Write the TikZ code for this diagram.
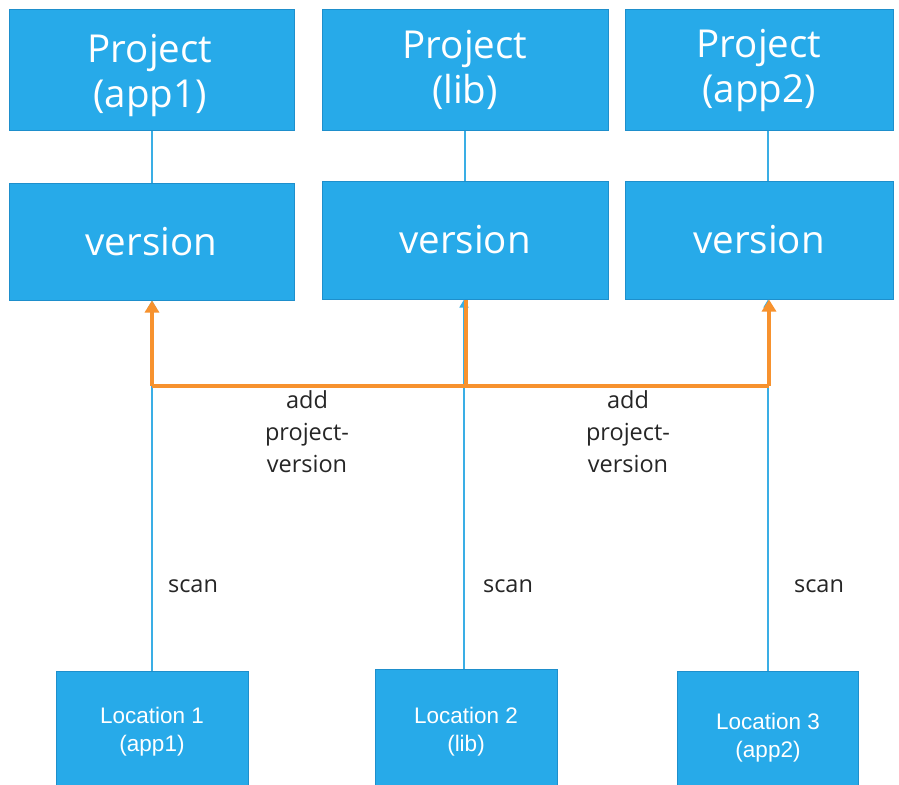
\documentclass[tikz,border=0pt]{standalone}
\usepackage{fontspec}
\setmainfont{Open Sans}
\newfontfamily\locfont{Liberation Sans}
\usetikzlibrary{arrows.meta}
\definecolor{boxfill}{HTML}{27AAE9}
\definecolor{boxdraw}{HTML}{1E8FCC}
\definecolor{oline}{HTML}{F7922E}
\definecolor{bline}{HTML}{3AAEE5}
\tikzset{
  box/.style={draw=boxdraw, fill=boxfill, line width=1pt, text=white, align=center, inner sep=0pt},
  bigfont/.style={font=\fontsize{38.5}{45}\selectfont},
  bigbox/.style={box, bigfont},
  boxtext/.style={text=white, align=center, inner sep=0pt, bigfont},
  locbox/.style={box, font=\locfont\fontsize{22.5}{28}\selectfont},
  bconn/.style={draw=bline, line width=1.5pt},
  oconn/.style={draw=oline, line width=3.2pt},
  lbl/.style={align=center, text=black!85, font=\fontsize{23.5}{32}\selectfont, inner sep=0pt}
}
\begin{document}
\begin{tikzpicture}[x=1pt,y=-1pt]
\clip (0,0) rectangle (899,784);
\fill[white] (0,0) rectangle (899,784);
% project boxes
\node[bigbox, minimum width=285pt, minimum height=120pt] (p1) at (151.5,70) {};
\node[boxtext] (p1t) at (150,75) {Project\\(app1)};
\node[bigbox, minimum width=286pt, minimum height=120pt] (p2) at (465,70) {Project\\(lib)};
\node[bigbox, minimum width=268pt, minimum height=120pt] (p3) at (759,70) {Project\\(app2)};
% version boxes
\node[bigbox, minimum width=285pt, minimum height=117pt] (v1) at (151.5,241.5) {version};
\node[bigbox, minimum width=286pt, minimum height=118pt] (v2) at (465,240) {version};
\node[bigbox, minimum width=268pt, minimum height=118pt] (v3) at (759,240) {version};
% location boxes
\node[locbox, minimum width=192pt, minimum height=122pt] (l1) at (152,732) {Location 1\\(app1)};
\node[locbox, minimum width=182pt, minimum height=126pt] (l2) at (466,732) {Location 2\\(lib)};
\node[locbox, minimum width=181pt, minimum height=134pt] (l3) at (768,738) {Location 3\\(app2)};
% project - version links
\draw[bconn] (p1.south -| 152,0) -- (v1.north -| 152,0);
\draw[bconn] (p2.south -| 465,0) -- (v2.north -| 465,0);
\draw[bconn] (p3.south -| 768,0) -- (v3.north -| 768,0);
% scan links
\draw[bconn, -{Triangle[length=8pt,width=9pt]}] (l1.north) -- (l1.north |- v1.south);
\draw[bconn, -{Triangle[length=8pt,width=9pt]}] (l2.north -| 464,0) -- (v2.south -| 464,0);
\draw[bconn, -{Triangle[length=8pt,width=9pt]}] (l3.north) -- (l3.north |- v3.south);
% orange add project-version
\coordinate (o1) at (152,386);
\coordinate (o2) at (466,386);
\coordinate (o3) at (769,386);
\draw[oconn] (o1) -- (o3);
\draw[oconn, -{Triangle[length=12pt,width=14pt]}] (o1) -- (o1 |- v1.south);
\draw[oconn] (o2) -- (o2 |- v2.south);
\draw[oconn, -{Triangle[length=12pt,width=14pt]}] (o3) -- (o3 |- v3.south);
% labels
\node[lbl] (a1) at (307,432) {add\\project-\\version};
\node[lbl] (a2) at (628,432) {add\\project-\\version};
\node[lbl] (s1) at (193,586) {scan};
\node[lbl] (s2) at (508,586) {scan};
\node[lbl] (s3) at (819,586) {scan};
\end{tikzpicture}
\end{document}
